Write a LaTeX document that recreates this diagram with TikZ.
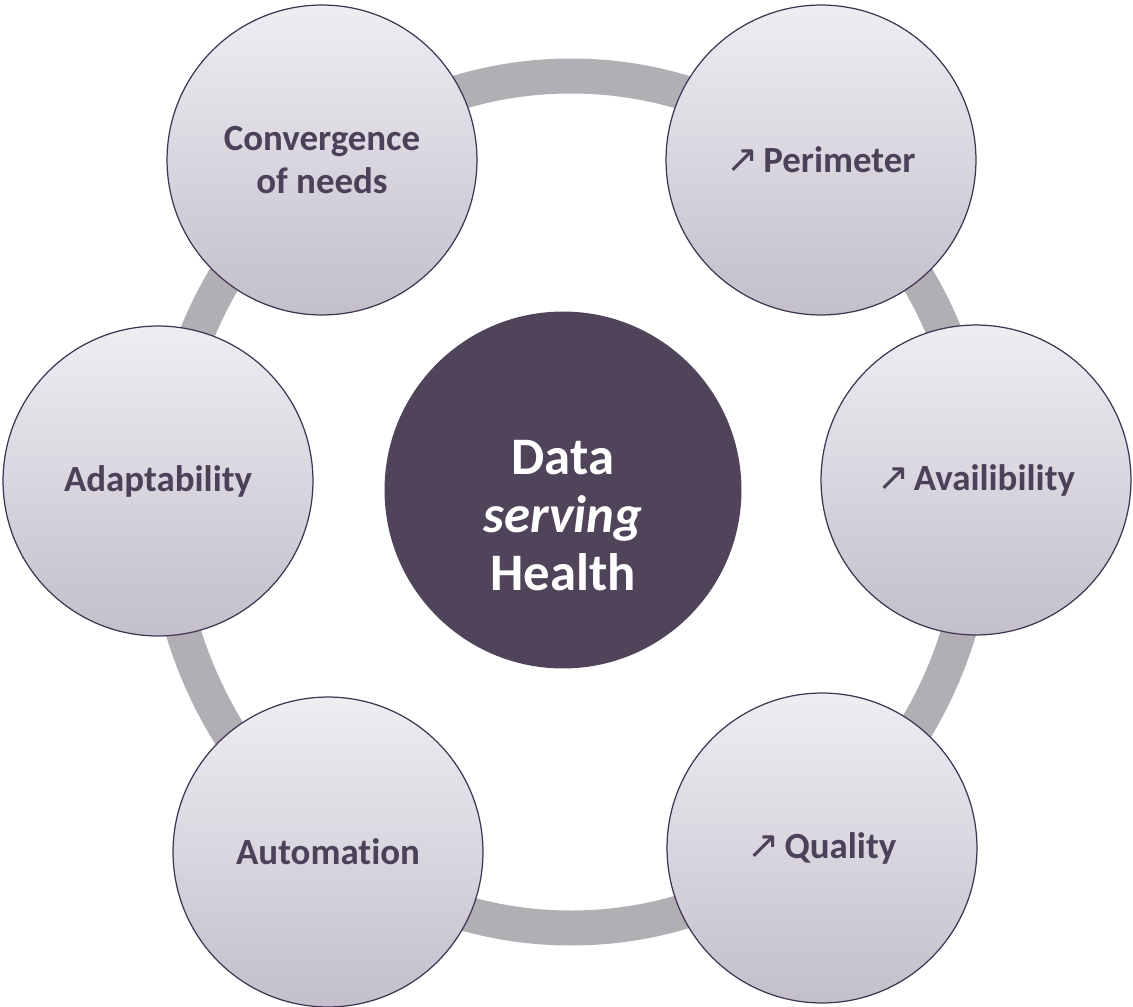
\documentclass[tikz,border=0pt]{standalone}
\usepackage{fontspec}
\setmainfont[Ligatures=CommonOff]{Carlito}
\newfontfamily\arrowfont{DejaVu Sans}
\usepackage{xcolor}
\usepackage{tikz}
\usetikzlibrary{calc}
\definecolor{plum}{HTML}{4F4459}
\definecolor{ink}{HTML}{4B4158}
\definecolor{edgeline}{HTML}{3F3551}
\definecolor{ringgrey}{HTML}{B1AFB4}
\definecolor{bubbletop}{HTML}{EEEDF2}
\definecolor{bubblebot}{HTML}{C3BFCB}
\newcommand{\uparr}{{\arrowfont\mdseries\fontsize{22}{22}\selectfont ↗}\hspace{0.12em}}

\begin{document}
\begin{tikzpicture}[x=0.02cm,y=0.02cm,semithick]
  \tikzstyle{bubble}=[draw=edgeline, line width=0.7pt, circle, minimum size=6.2cm, inner sep=0pt,
    top color=bubbletop, bottom color=bubblebot, text=ink,
    font=\bfseries\fontsize{21}{24}\selectfont, align=center]
  \tikzstyle{hub}=[circle, fill=plum, minimum size=7.14cm, inner sep=0pt]
  \tikzstyle{hubtext}=[text=white, font=\bfseries\fontsize{30}{33}\selectfont, align=center]
  \tikzstyle{ring}=[draw=ringgrey, line width=0.7cm]

  \useasboundingbox (0,0) rectangle (1133,-1007);

  % ring behind the bubbles
  \coordinate (R) at (571,-502);
  \draw[ring] (R) ellipse [x radius=407, y radius=426];

  % centre
  \node[hub] (H) at (563,-490) {};
  \node[hubtext] (T) at (563,-516) {Data\\\textit{serving}\\Health};

  % bubbles
  \node[bubble] (A) at (322,-160) {Convergence\\of needs};
  \node[bubble] (B) at (821,-160) {\uparr Perimeter};
  \node[bubble] (C) at (976,-480) {\uparr Availibility};
  \node[bubble] (D) at (822,-848) {\uparr Quality};
  \node[bubble] (E) at (328,-852) {Automation};
  \node[bubble] (F) at (158,-481) {Adaptability};
\end{tikzpicture}
\end{document}
